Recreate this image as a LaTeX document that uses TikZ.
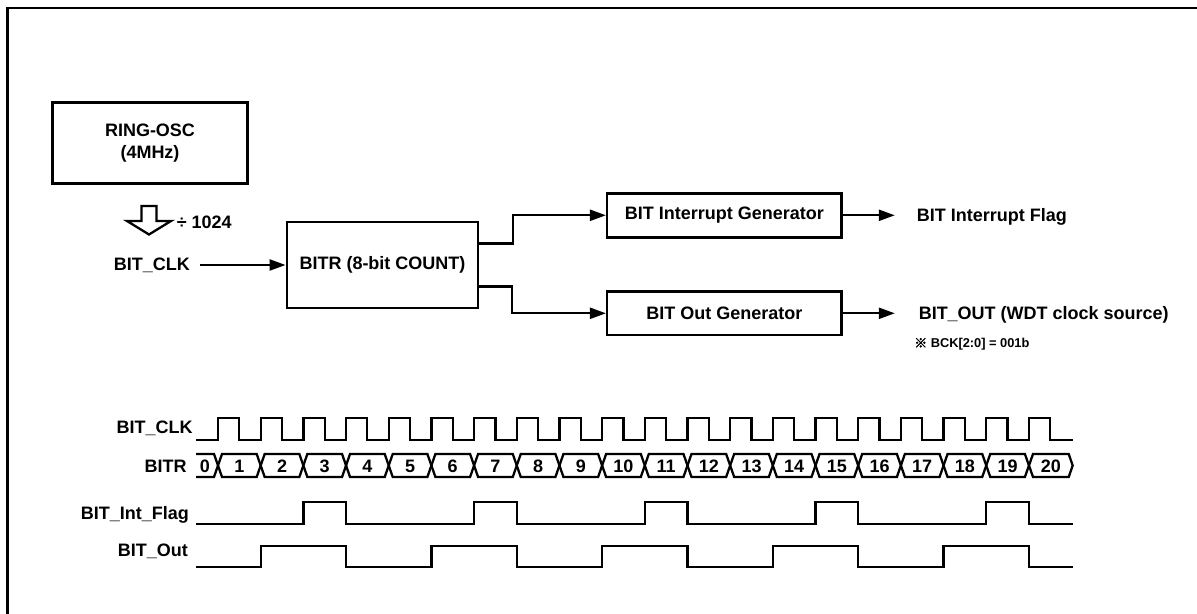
\documentclass[tikz,border=0pt]{standalone}
\usepackage{fontspec}
\setmainfont{Liberation Sans}
\newfontfamily\cjk[AutoFakeBold=3]{Noto Sans CJK SC}
\usetikzlibrary{arrows.meta}
\newcommand\mainfnt{\fontsize{10.24pt}{12.9pt}\selectfont\bfseries}
\newcommand\notefnt{\fontsize{7.3pt}{8.5pt}\selectfont\bfseries}
\begin{document}
\begin{tikzpicture}[x=0.02cm,y=-0.02cm,
  box/.style={draw,line width=1.4pt,inner sep=0pt,align=center,font=\mainfnt},
  lbl/.style={inner sep=0pt,font=\mainfnt},
  arr/.style={line width=1.3pt,-{Triangle[length=0.32cm,width=0.22cm]}},
  wave/.style={line width=1.3pt,line join=miter},
]
\useasboundingbox (0,0) rectangle (1197,614);
% frame
\draw[line width=1.3pt] (7.5,620) -- (7.5,8) -- (1205,8);

% block diagram
\node[box,minimum width=3.9cm,minimum height=1.62cm] (osc) at (150,143) {RING-OSC\\(4MHz)};
\draw[line width=1.3pt,line join=miter] (141.5,206) -- (156.5,206) -- (156.5,221) -- (171,221) -- (149,234.5) -- (127,221) -- (141.5,221) -- cycle;
\node[lbl,anchor=base west] (div) at (176.5,228.2) {÷ 1024};
\node[box,minimum width=3.83cm,minimum height=1.73cm] (bitr) at (382.5,265) {BITR (8-bit COUNT)};
\node[lbl,anchor=east] (clk) at (190.2,265) {BIT\_CLK};
\draw[arr] ([xshift=0.2cm]clk.east) -- (bitr.west);

\node[box,minimum width=4.69cm,minimum height=0.88cm] (intg) at (724.4,215.3) {BIT Interrupt Generator};
\node[box,minimum width=4.69cm,minimum height=0.866cm] (outg) at (724.4,313.3) {BIT Out Generator};
\draw[arr] ([yshift=0.43cm]bitr.east) -- ++(33.5,0) |- (intg.west);
\draw[arr] ([yshift=-0.43cm]bitr.east) -- ++(32.5,0) |- (outg.west);

\node[lbl,anchor=base west] (flag) at (916.5,221.4) {BIT Interrupt Flag};
\node[lbl,anchor=base west] (bout) at (918.4,319.4) {BIT\_OUT (WDT clock source)};
\coordinate (flagtip) at (894.8,215.3);
\coordinate (bouttip) at (894.8,313.3);
\draw[arr] (intg.east) -- (flagtip);
\draw[arr] (outg.east) -- (bouttip);
\node[lbl,anchor=base west,font=\notefnt] (note) at (914,347.6) {{\cjk\bfseries ※} BCK[2:0] = 001b};

% timing labels
\node[lbl,anchor=base east] (tclk) at (193,434) {BIT\_CLK};
\node[lbl,anchor=base east] (tbitr) at (187,473) {BITR};
\node[lbl,anchor=base east] (tflag) at (189.3,519.7) {BIT\_Int\_Flag};
\node[lbl,anchor=base east] (tout) at (188.3,556.4) {BIT\_Out};

% clock
\draw[wave] (196,440) \foreach \k in {0,...,19} { -- ({218+42.68*\k},440) -- ({218+42.68*\k},418) -- ({239.3+42.68*\k},418) -- ({239.3+42.68*\k},440) } -- (1072.7,440);

% bus
\draw[wave] (196,454) -- (214,454) -- (218,465.5) -- (214,477) -- (196,477);
\node[lbl] (v0) at (205,466) {0};
\foreach \k in {1,...,19} {
  \pgfmathsetmacro\a{218+42.68*(\k-1)}
  \pgfmathsetmacro\b{218+42.68*\k}
  \draw[wave] (\a,465.5) -- (\a+4,454) -- (\b-4,454) -- (\b,465.5) -- (\b-4,477) -- (\a+4,477) -- cycle;
  \node[lbl] (v\k) at ({(\a+\b)/2},466) {\k};
}
\draw[wave] (1029,465.5) -- (1033,454) -- (1068.7,454) -- (1072.7,465.5) -- (1068.7,477) -- (1033,477) -- cycle;
\node[lbl] (v20) at (1050.9,466) {20};

% interrupt flag
\draw[wave] (196,524) \foreach \m in {2,6,10,14,18} { -- ({218+42.68*\m},524) -- ({218+42.68*\m},502) -- ({218+42.68*(\m+1)},502) -- ({218+42.68*(\m+1)},524) } -- (1072.7,524);

% bit out
\draw[wave] (196,567) \foreach \m in {1,5,9,13,17} { -- ({218+42.68*\m},567) -- ({218+42.68*\m},546) -- ({218+42.68*(\m+2)},546) -- ({218+42.68*(\m+2)},567) } -- (1072.7,567);
\end{tikzpicture}
\end{document}
